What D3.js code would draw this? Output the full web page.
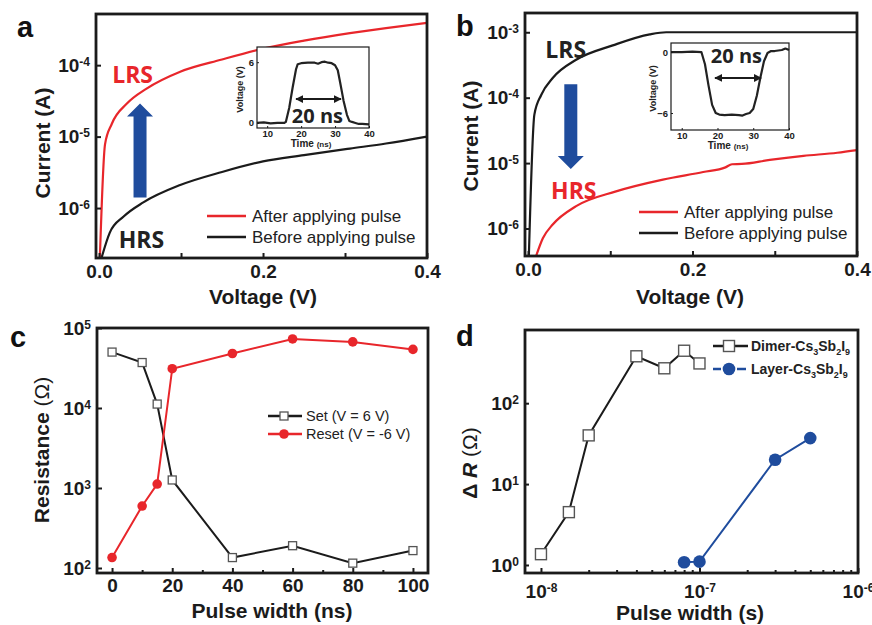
<!DOCTYPE html>
<html>
<head>
<meta charset="utf-8">
<script src="https://cdn.jsdelivr.net/npm/d3@7"></script>
<style>
body { margin: 0; background: #fff; }
svg { display: block; }
</style>
</head>
<body>
<script>
// ---- data ----
// (a) SET: I-V before / after a +6 V pulse
var aVoltAfter = [0.001, 0.0073, 0.0155, 0.034, 0.058, 0.099, 0.15, 0.2, 0.25, 0.306, 0.35, 0.4];
var aCurrAfter = [2e-7, 7.8e-6, 1.5e-5, 2.9e-5, 4.7e-5, 8.1e-5, 1.2e-4, 1.7e-4, 2.2e-4, 2.8e-4, 3.3e-4, 3.9e-4];
var aVoltBefore = [0.003, 0.013, 0.030, 0.054, 0.099, 0.15, 0.2, 0.25, 0.306, 0.35, 0.4];
var aCurrBefore = [2e-7, 4.5e-7, 7.6e-7, 1.2e-6, 2.1e-6, 3.2e-6, 4.5e-6, 5.5e-6, 6.8e-6, 8.0e-6, 1.0e-5];
// (b) RESET: I-V before / after a -6 V pulse
var bVoltBefore = [0.001, 0.0077, 0.016, 0.030, 0.0585, 0.103, 0.148, 0.168, 0.4];
var bCurrBefore = [3.8e-7, 5.5e-5, 1.1e-4, 2.0e-4, 3.8e-4, 6.3e-4, 9.3e-4, 1e-3, 1e-3];
var bVoltAfter = [0.0098, 0.018, 0.030, 0.0585, 0.107, 0.164, 0.213, 0.24, 0.248, 0.26, 0.294, 0.335, 0.376, 0.4];
var bCurrAfter = [3.8e-7, 7.1e-7, 1.15e-6, 2.2e-6, 3.7e-6, 5.6e-6, 7.3e-6, 8.6e-6, 9.6e-6, 9.7e-6, 1.12e-5, 1.29e-5, 1.44e-5, 1.58e-5];
// insets: pulse shapes
var insetATime = [7, 9, 11, 13, 15, 15.5, 16.5, 17.5, 18.5, 19, 20, 22, 24, 25, 26, 27, 28, 29, 30, 30.8, 31.5, 32.5, 33.5, 34.2, 35, 36, 37, 38, 40];
var insetAVolt = [0, 0.05, -0.05, 0, 0, 0.1, 1.5, 3.5, 5.3, 5.8, 5.9, 5.95, 5.95, 5.85, 6.0, 6.05, 5.95, 5.9, 5.7, 5.2, 4.0, 2.2, 0.8, 0.2, 0.1, 0, -0.1, -0.1, -0.15];
var insetBTime = [7, 10, 13, 15.5, 16.5, 17.5, 18.5, 19.5, 20.5, 22, 24, 26, 27, 28, 29, 30, 31, 32, 33, 34, 35, 36, 37, 38, 39, 40];
var insetBVolt = [0, 0, 0.05, 0, -1.2, -3.3, -5.2, -6.0, -6.15, -6.2, -6.15, -6.2, -6.25, -6.1, -6.0, -5.6, -4.3, -2.5, -0.9, -0.1, 0.1, 0.1, 0.15, 0.2, 0.35, 0.2];
// (c) resistance vs pulse width
var pulseNs = [0, 10, 15, 20, 40, 60, 80, 100];
var setOhm = [5.0e4, 3.7e4, 1.12e4, 1.26e3, 135, 190, 115, 165];
var resetOhm = [135, 595, 1120, 3.1e4, 4.8e4, 7.3e4, 6.7e4, 5.4e4];
// (d) delta R vs pulse width
var dimerWidth = [1e-8, 1.5e-8, 2e-8, 4e-8, 6e-8, 8e-8, 1e-7];
var dimerDR = [1.36, 4.5, 40, 380, 270, 445, 310];
var layerWidth = [8e-8, 1e-7, 3e-7, 5e-7];
var layerDR = [1.08, 1.1, 20, 37];

var red = "#e8262b", ink = "#1b1b1b", blue = "#1f4c9d";
var AX = "'Liberation Sans', Arial, sans-serif";
var OS = "'Open Sans', sans-serif";

var svg = d3.select("body").append("svg").attr("width", 872).attr("height", 625);
var defs = svg.append("defs");
defs.append("marker").attr("id", "head").attr("viewBox", "0 0 10 10")
  .attr("refX", 9).attr("refY", 5).attr("markerWidth", 4).attr("markerHeight", 4)
  .attr("orient", "auto-start-reverse")
  .append("path").attr("d", "M0,0L10,5L0,10z").attr("fill", ink);

function zip(xs, ys) { return xs.map(function (x, i) { return [x, ys[i]]; }); }

function frame(box, w) {
  svg.append("rect").attr("x", box.l).attr("y", box.t)
    .attr("width", box.r - box.l).attr("height", box.b - box.t)
    .attr("fill", "none").attr("stroke", ink).attr("stroke-width", w || 2.8);
}

function clip(id, box) {
  defs.append("clipPath").attr("id", id).append("rect")
    .attr("x", box.l).attr("y", box.t).attr("width", box.r - box.l).attr("height", box.b - box.t);
}

function styleAxis(g, size, lw) {
  g.attr("font-family", AX).attr("font-size", size).attr("font-weight", "bold");
  g.select(".domain").remove();
  g.selectAll(".tick line").attr("stroke", ink).attr("stroke-width", lw || 2);
  g.selectAll(".tick text").attr("fill", ink);
}

// turn numeric tick labels into 10^n
function powLabels(g, sup) {
  g.selectAll(".tick text").each(function (d) {
    var t = d3.select(this);
    t.text(null);
    t.append("tspan").text("10");
    t.append("tspan").attr("dy", "-0.5em").attr("font-size", sup).text(Math.round(Math.log10(d)));
  });
}

function yTitle(x, y, txt) {
  return svg.append("text").attr("transform", "translate(" + x + "," + y + ") rotate(-90)")
    .attr("text-anchor", "middle").attr("font-family", AX).attr("font-size", 21)
    .attr("font-weight", "bold").attr("fill", ink).text(txt);
}
function xTitle(x, y, txt) {
  svg.append("text").attr("x", x).attr("y", y).attr("text-anchor", "middle")
    .attr("font-family", AX).attr("font-size", 21).attr("font-weight", "bold").attr("fill", ink).text(txt);
}
function panelLabel(x, y, txt) {
  svg.append("text").attr("x", x).attr("y", y).attr("font-family", AX).attr("font-size", 29)
    .attr("font-weight", "bold").attr("fill", "#111").text(txt);
}

// ---------- I-V panels (a, b) ----------
function ivPanel(o) {
  var box = o.box;
  var x = d3.scaleLinear().domain([-0.0037, 0.4]).range([box.l, box.r]);
  var y = d3.scaleLog().domain(o.ydom).range([box.b, box.t]);
  clip(o.id, box);
  var line = d3.line().x(function (d) { return x(d[0]); }).y(function (d) { return y(d[1]); })
    .curve(d3.curveMonotoneX);
  var gc = svg.append("g").attr("clip-path", "url(#" + o.id + ")");
  gc.append("path").attr("d", line(o.before)).attr("fill", "none").attr("stroke", ink).attr("stroke-width", 2.2);
  gc.append("path").attr("d", line(o.after)).attr("fill", "none").attr("stroke", red).attr("stroke-width", 2.2);

  var xv = [0, 0.1, 0.2, 0.3, 0.4];
  svg.append("g").attr("transform", "translate(0," + box.b + ")")
    .call(d3.axisBottom(x).tickValues(xv).tickSize(-5).tickPadding(7)
      .tickFormat(function (d, i) { return i % 2 ? "" : d3.format(".1f")(d); }))
    .call(styleAxis, 19);
  svg.append("g").attr("transform", "translate(" + box.l + ",0)")
    .call(d3.axisLeft(y).tickValues(o.ydec).tickSize(-5).tickPadding(6))
    .call(styleAxis, 19).call(powLabels, 12);
  frame(box);

  // legend
  var lg = [["After applying pulse", red], ["Before applying pulse", ink]];
  lg.forEach(function (l, i) {
    var yy = o.leg[1] + i * 21;
    svg.append("line").attr("x1", o.leg[0]).attr("x2", o.leg[0] + 39).attr("y1", yy).attr("y2", yy)
      .attr("stroke", l[1]).attr("stroke-width", 2.5);
    svg.append("text").attr("x", o.leg[0] + 45).attr("y", yy + 6).attr("font-family", AX)
      .attr("font-size", 17).attr("fill", "#222").text(l[0]);
  });

  // state labels
  o.states.forEach(function (s) {
    svg.append("text").attr("x", x(s.v)).attr("y", y(s.i)).attr("font-family", OS)
      .attr("font-size", 23).attr("font-weight", "bold").attr("fill", s.c).text(s.t);
  });

  // big blue arrow
  var ax = x(o.arrow.v), y0 = y(o.arrow.from), y1 = y(o.arrow.to);
  var dir = y1 < y0 ? -1 : 1, hl = 13;
  svg.append("path").attr("fill", blue)
    .attr("d", "M" + (ax - 6.5) + "," + y0 + "L" + (ax + 6.5) + "," + y0 + "L" + (ax + 6.5) + "," + (y1 - dir * hl) +
      "L" + (ax + 13) + "," + (y1 - dir * hl) + "L" + ax + "," + y1 + "L" + (ax - 13) + "," + (y1 - dir * hl) +
      "L" + (ax - 6.5) + "," + (y1 - dir * hl) + "Z");

  // inset
  var ib = o.inset.box;
  var ix = d3.scaleLinear().domain([7, 40]).range([ib.l, ib.r]);
  var iy = d3.scaleLinear().domain(o.inset.ydom).range([ib.b, ib.t]);
  svg.append("rect").attr("x", ib.l).attr("y", ib.t).attr("width", ib.r - ib.l).attr("height", ib.b - ib.t)
    .attr("fill", "#fff");
  svg.append("path").attr("d", d3.line().x(function (d) { return ix(d[0]); }).y(function (d) { return iy(d[1]); })(o.inset.data))
    .attr("fill", "none").attr("stroke", "#222").attr("stroke-width", 2.2).attr("stroke-linejoin", "round");
  svg.append("g").attr("transform", "translate(0," + ib.b + ")")
    .call(d3.axisBottom(ix).tickValues([10, 20, 30, 40]).tickSize(-2).tickPadding(2))
    .call(styleAxis, 9.5, 1);
  svg.append("g").attr("transform", "translate(" + ib.l + ",0)")
    .call(d3.axisLeft(iy).tickValues(o.inset.yticks).tickSize(-2).tickPadding(3))
    .call(styleAxis, 9.5, 1);
  frame(ib, 1.2);
  var tt = svg.append("text").attr("x", (ib.l + ib.r) / 2 - 2).attr("y", ib.b + 19).attr("text-anchor", "middle")
    .attr("font-family", AX).attr("font-size", 10).attr("font-weight", "bold").attr("fill", "#222");
  tt.append("tspan").text("Time ");
  tt.append("tspan").attr("font-size", 8).text("(ns)");
  svg.append("text").attr("transform", "translate(" + o.inset.vx + "," + ((ib.t + ib.b) / 2 + 2) + ") rotate(-90)")
    .attr("text-anchor", "middle").attr("font-family", AX).attr("font-size", 9)
    .attr("font-weight", "bold").attr("fill", "#222").text("Voltage (V)");
  var ar = o.inset.arrow;
  svg.append("line").attr("x1", ix(ar[0])).attr("x2", ix(ar[1])).attr("y1", iy(ar[2])).attr("y2", iy(ar[2]))
    .attr("stroke", ink).attr("stroke-width", 2)
    .attr("marker-start", "url(#head)").attr("marker-end", "url(#head)");
  svg.append("text").attr("x", ix(o.inset.lab[0])).attr("y", iy(o.inset.lab[1])).attr("text-anchor", "middle")
    .attr("font-family", OS).attr("font-size", 20).attr("font-weight", "bold").attr("fill", "#222").text("20 ns");
}

ivPanel({
  id: "clipA", box: { l: 96, r: 427, t: 14, b: 258 }, ydom: [2e-7, 5.2e-4], ydec: [1e-6, 1e-5, 1e-4],
  after: zip(aVoltAfter, aCurrAfter), before: zip(aVoltBefore, aCurrBefore),
  leg: [207, 216],
  states: [{ t: "LRS", v: 0.016, i: 5.6e-5, c: red }, { t: "HRS", v: 0.024, i: 2.8e-7, c: "#222" }],
  arrow: { v: 0.05, from: 1.4e-6, to: 2.9e-5 },
  inset: {
    box: { l: 257, r: 369, t: 47, b: 128 }, ydom: [-0.5, 7.5], yticks: [0, 6], vx: 243,
    data: zip(insetATime, insetAVolt), arrow: [18.5, 31.75, 2.36], lab: [24.8, 0.0]
  }
});

ivPanel({
  id: "clipB", box: { l: 525, r: 857, t: 13, b: 256 }, ydom: [3.8e-7, 1.97e-3], ydec: [1e-6, 1e-5, 1e-4, 1e-3],
  after: zip(bVoltAfter, bCurrAfter), before: zip(bVoltBefore, bCurrBefore),
  leg: [639, 212],
  states: [{ t: "LRS", v: 0.021, i: 4.1e-4, c: "#222" }, { t: "HRS", v: 0.028, i: 2.8e-6, c: red }],
  arrow: { v: 0.052, from: 1.6e-4, to: 8.1e-6 },
  inset: {
    box: { l: 671, r: 789, t: 43, b: 130 }, ydom: [-7.67, 0.89], yticks: [-6, 0], vx: 656,
    data: zip(insetBTime, insetBVolt), arrow: [19.3, 32.2, -2.55], lab: [25.3, -1.08]
  }
});

panelLabel(17, 37, "a");
panelLabel(456, 36, "b");
yTitle(50, 143, "Current (A)");
yTitle(478, 136, "Current (A)");
xTitle(263, 304, "Voltage (V)");
xTitle(690, 304, "Voltage (V)");

// ---------- (c) ----------
var boxC = { l: 97, r: 428, t: 328, b: 573 };
var xC = d3.scaleLinear().domain([-5, 105]).range([boxC.l, boxC.r]);
var yC = d3.scaleLog().domain([86.6, 1e5]).range([boxC.b, boxC.t]);
var lineC = d3.line().x(function (d) { return xC(d[0]); }).y(function (d) { return yC(d[1]); });
svg.append("path").attr("d", lineC(zip(pulseNs, setOhm))).attr("fill", "none").attr("stroke", ink).attr("stroke-width", 2);
svg.append("path").attr("d", lineC(zip(pulseNs, resetOhm))).attr("fill", "none").attr("stroke", red).attr("stroke-width", 2);
svg.append("g").selectAll("rect").data(zip(pulseNs, setOhm)).enter().append("rect")
  .attr("x", function (d) { return xC(d[0]) - 4; }).attr("y", function (d) { return yC(d[1]) - 4; })
  .attr("width", 8).attr("height", 8).attr("fill", "#fff").attr("stroke", "#555").attr("stroke-width", 1.3);
svg.append("g").selectAll("circle").data(zip(pulseNs, resetOhm)).enter().append("circle")
  .attr("cx", function (d) { return xC(d[0]); }).attr("cy", function (d) { return yC(d[1]); })
  .attr("r", 4.8).attr("fill", red);
svg.append("g").attr("transform", "translate(0," + boxC.b + ")")
  .call(d3.axisBottom(xC).tickValues([0, 20, 40, 60, 80, 100]).tickSize(-5).tickPadding(6))
  .call(styleAxis, 19);
svg.append("g").attr("transform", "translate(0," + boxC.b + ")")
  .call(d3.axisBottom(xC).tickValues([10, 30, 50, 70, 90]).tickSize(-3).tickFormat(""))
  .call(styleAxis, 19);
svg.append("g").attr("transform", "translate(" + boxC.l + ",0)")
  .call(d3.axisLeft(yC).tickValues([1e2, 1e3, 1e4, 1e5]).tickSize(-5).tickPadding(6))
  .call(styleAxis, 19).call(powLabels, 12);
frame(boxC);
[["Set (V = 6 V)", ink, "sq"], ["Reset (V = -6 V)", red, "ci"]].forEach(function (l, i) {
  var yy = 416 + i * 18;
  svg.append("line").attr("x1", 268).attr("x2", 302).attr("y1", yy).attr("y2", yy).attr("stroke", l[1]).attr("stroke-width", 2.5);
  if (l[2] === "sq") {
    svg.append("rect").attr("x", 280).attr("y", yy - 4).attr("width", 8).attr("height", 8)
      .attr("fill", "#fff").attr("stroke", "#555").attr("stroke-width", 1.3);
  } else {
    svg.append("circle").attr("cx", 284).attr("cy", yy).attr("r", 4.8).attr("fill", red);
  }
  svg.append("text").attr("x", 306).attr("y", yy + 5).attr("font-family", AX).attr("font-size", 14.5)
    .attr("fill", "#222").text(l[0]);
});
panelLabel(10, 347, "c");
var rt = yTitle(49, 450, "Resistance ");
rt.append("tspan").attr("font-weight", "normal").text("(Ω)");
xTitle(272, 618, "Pulse width (ns)");

// ---------- (d) ----------
var boxD = { l: 525, r: 858, t: 330, b: 573 };
var xD = d3.scaleLog().domain([7.93e-9, 1e-6]).range([boxD.l, boxD.r]);
var yD = d3.scaleLog().domain([0.796, 803]).range([boxD.b, boxD.t]);
var lineD = d3.line().x(function (d) { return xD(d[0]); }).y(function (d) { return yD(d[1]); });
svg.append("path").attr("d", lineD(zip(dimerWidth, dimerDR))).attr("fill", "none").attr("stroke", ink).attr("stroke-width", 2);
svg.append("path").attr("d", lineD(zip(layerWidth, layerDR))).attr("fill", "none").attr("stroke", blue).attr("stroke-width", 2);
svg.append("g").selectAll("rect").data(zip(dimerWidth, dimerDR)).enter().append("rect")
  .attr("x", function (d) { return xD(d[0]) - 5.5; }).attr("y", function (d) { return yD(d[1]) - 5.5; })
  .attr("width", 11).attr("height", 11).attr("fill", "#fff").attr("stroke", "#555").attr("stroke-width", 1.4);
svg.append("g").selectAll("circle").data(zip(layerWidth, layerDR)).enter().append("circle")
  .attr("cx", function (d) { return xD(d[0]); }).attr("cy", function (d) { return yD(d[1]); })
  .attr("r", 6.3).attr("fill", blue);
var minorD = d3.range(2, 10).map(function (k) { return k * 1e-8; })
  .concat(d3.range(2, 10).map(function (k) { return k * 1e-7; }));
svg.append("g").attr("transform", "translate(0," + boxD.b + ")")
  .call(d3.axisBottom(xD).tickValues([1e-8, 1e-7, 1e-6]).tickSize(-5).tickPadding(12))
  .call(styleAxis, 19).call(powLabels, 12);
svg.append("g").attr("transform", "translate(0," + boxD.b + ")")
  .call(d3.axisBottom(xD).tickValues(minorD).tickSize(-3).tickFormat(""))
  .call(styleAxis, 19);
svg.append("g").attr("transform", "translate(" + boxD.l + ",0)")
  .call(d3.axisLeft(yD).tickValues([1, 10, 100]).tickSize(-4).tickPadding(6))
  .call(styleAxis, 19).call(powLabels, 12);
frame(boxD);

function chemLabel(t, head) {
  t.append("tspan").text(head + "-Cs");
  t.append("tspan").attr("dy", 4).attr("font-size", 9).text("3");
  t.append("tspan").attr("dy", -4).text("Sb");
  t.append("tspan").attr("dy", 4).attr("font-size", 9).text("2");
  t.append("tspan").attr("dy", -4).text("I");
  t.append("tspan").attr("dy", 4).attr("font-size", 9).text("9");
}
[["Dimer", ink], ["Layer", blue]].forEach(function (l, i) {
  var yy = 346 + i * 23;
  if (i === 0) {
    svg.append("line").attr("x1", 713).attr("x2", 748).attr("y1", yy).attr("y2", yy).attr("stroke", ink).attr("stroke-width", 2.5);
    svg.append("rect").attr("x", 723.5).attr("y", yy - 5.5).attr("width", 11).attr("height", 11)
      .attr("fill", "#fff").attr("stroke", "#555").attr("stroke-width", 1.4);
  } else {
    [[713, 721], [737, 746]].forEach(function (s) {
      svg.append("line").attr("x1", s[0]).attr("x2", s[1]).attr("y1", yy).attr("y2", yy)
        .attr("stroke", blue).attr("stroke-width", 2.5);
    });
    svg.append("circle").attr("cx", 729).attr("cy", yy).attr("r", 6.3).attr("fill", blue);
  }
  var t = svg.append("text").attr("x", 751).attr("y", yy + 5).attr("font-family", AX).attr("font-size", 14)
    .attr("font-weight", "bold").attr("fill", "#222");
  chemLabel(t, l[0]);
});
panelLabel(456, 346, "d");
var dt = yTitle(477, 463, "Δ ");
dt.append("tspan").attr("font-style", "italic").text("R");
dt.append("tspan").attr("font-weight", "normal").text(" (Ω)");
xTitle(690, 620, "Pulse width (s)");
</script>
</body>
</html>
